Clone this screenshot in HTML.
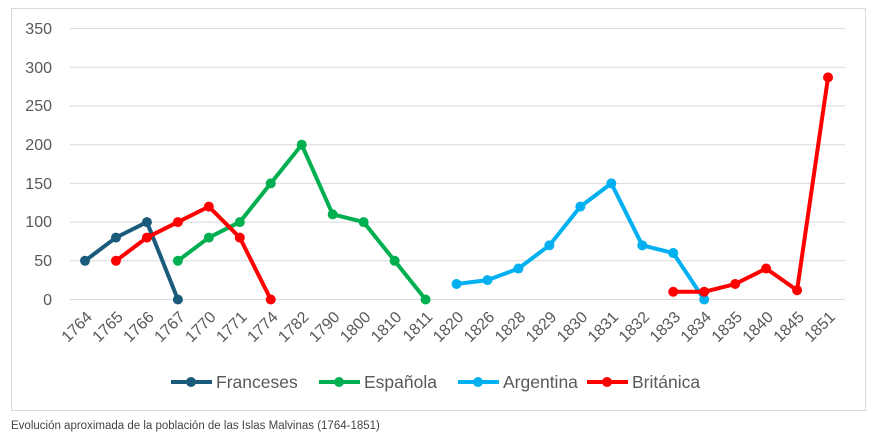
<!DOCTYPE html>
<html><head><meta charset="utf-8"><style>
body{margin:0;background:#fff;width:876px;height:441px;overflow:hidden;font-family:"Liberation Sans",sans-serif}
</style></head><body>
<svg width="876" height="441" xmlns="http://www.w3.org/2000/svg" font-family="Liberation Sans, sans-serif">
<rect x="11.5" y="8.5" width="854" height="402" fill="#fff" stroke="#d9d9d9"/>
<g stroke="#d9d9d9" stroke-width="1">
<line x1="70" x2="845" y1="299.5" y2="299.5"/>
<line x1="70" x2="845" y1="260.8" y2="260.8"/>
<line x1="70" x2="845" y1="222.1" y2="222.1"/>
<line x1="70" x2="845" y1="183.4" y2="183.4"/>
<line x1="70" x2="845" y1="144.7" y2="144.7"/>
<line x1="70" x2="845" y1="106" y2="106"/>
<line x1="70" x2="845" y1="67.3" y2="67.3"/>
<line x1="70" x2="845" y1="28.6" y2="28.6"/>
</g>
<g font-size="16" fill="#595959" text-anchor="end">
<text x="52" y="305">0</text><text x="52" y="266">50</text><text x="52" y="227">100</text>
<text x="52" y="189">150</text><text x="52" y="150">200</text><text x="52" y="111">250</text>
<text x="52" y="73">300</text><text x="52" y="34">350</text>
</g>
<g font-size="16" fill="#595959" text-anchor="end" id="xl"></g>
<g fill="none" stroke-width="4" stroke-linejoin="round" id="lines"></g>
<g id="leg" font-size="17.5" fill="#595959">
<line x1="171" x2="212" y1="382" y2="382" stroke="#1a5b7c" stroke-width="4"/><circle cx="191" cy="382" r="5" fill="#1a5b7c"/><text x="216" y="388">Franceses</text>
<line x1="319" x2="360" y1="382" y2="382" stroke="#00b050" stroke-width="4"/><circle cx="339" cy="382" r="5" fill="#00b050"/><text x="364" y="388">Española</text>
<line x1="458" x2="499" y1="382" y2="382" stroke="#00b0f0" stroke-width="4"/><circle cx="478" cy="382" r="5" fill="#00b0f0"/><text x="503" y="388">Argentina</text>
<line x1="587" x2="628" y1="382" y2="382" stroke="#ff0000" stroke-width="4"/><circle cx="607" cy="382" r="5" fill="#ff0000"/><text x="632" y="388">Británica</text>
</g>
<text x="11" y="429" font-size="11.5" fill="#444">Evolución aproximada de la población de las Islas Malvinas (1764-1851)</text>
</svg>
<script>
const yrs=[1764,1765,1766,1767,1770,1771,1774,1782,1790,1800,1810,1811,1820,1826,1828,1829,1830,1831,1832,1833,1834,1835,1840,1845,1851];
const X=i=>85+i*30.96, Y=v=>299.5-v*0.774;
const ns="http://www.w3.org/2000/svg";
const xl=document.getElementById('xl');
yrs.forEach((y,i)=>{const t=document.createElementNS(ns,'text');const x=X(i)+8,yy=318;t.setAttribute('x',x);t.setAttribute('y',yy);t.setAttribute('transform',`rotate(-45 ${x} ${yy})`);t.textContent=y;xl.appendChild(t);});
const series=[
['#1a5b7c',[[0,50],[1,80],[2,100],[3,0]]],
['#00b050',[[3,50],[4,80],[5,100],[6,150],[7,200],[8,110],[9,100],[10,50],[11,0]]],
['#00b0f0',[[12,20],[13,25],[14,40],[15,70],[16,120],[17,150],[18,70],[19,60],[20,0]]],
['#ff0000',[[1,50],[2,80],[3,100],[4,120],[5,80],[6,0]]],
['#ff0000',[[19,10],[20,10],[21,20],[22,40],[23,12],[24,287]]]];
const g=document.getElementById('lines');
series.forEach(([c,pts])=>{const p=document.createElementNS(ns,'polyline');p.setAttribute('points',pts.map(([i,v])=>X(i)+','+Y(v)).join(' '));p.setAttribute('stroke',c);g.appendChild(p);
pts.forEach(([i,v])=>{const ci=document.createElementNS(ns,'circle');ci.setAttribute('cx',X(i));ci.setAttribute('cy',Y(v));ci.setAttribute('r',5);ci.setAttribute('fill',c);g.appendChild(ci);});});
</script>
</body></html>
